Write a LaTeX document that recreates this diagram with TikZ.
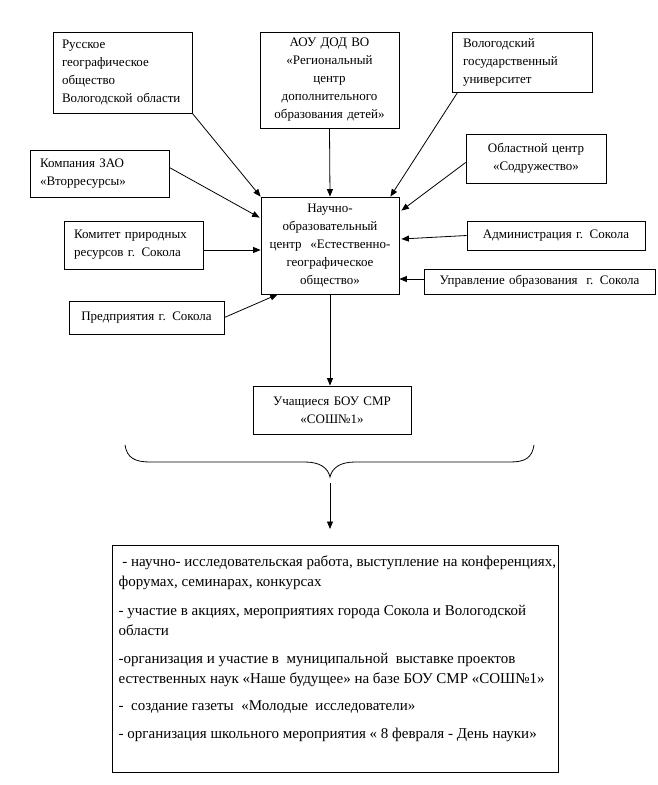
\documentclass[tikz,border=0pt]{standalone}
\usepackage{fontspec}
\setmainfont{Liberation Serif}
\usetikzlibrary{arrows.meta,calc}
\begin{document}
\begin{tikzpicture}[x=1pt,y=-1pt,
  box/.style={draw,line width=0.8pt,inner sep=0pt,font=\fontsize{13}{18}\selectfont},
  lbox/.style={box,align=left},
  cbox/.style={box,align=center},
  arr/.style={line width=0.8pt,-{Triangle[length=7.5pt,width=6pt]}}]
\useasboundingbox (0,0) rectangle (657,785);
% boxes
\node[lbox,minimum width=139,minimum height=81,text width=121] (rgo) at (122.5,72.5)
  {Русское\\географическое\\общество\\Вологодской области};
\node[cbox,minimum width=139,minimum height=96,text width=135] (aou) at (329.5,80)
  {АОУ ДОД ВО\\«Региональный\\центр\\дополнительного\\образования детей»};
\node[lbox,minimum width=140,minimum height=60,text width=118] (vgu) at (522,62)
  {Вологодский\\государственный\\университет};
\node[lbox,minimum width=139,minimum height=47,text width=119] (comp) at (99.5,173.5)
  {Компания ЗАО\\«Вторресурсы»};
\node[cbox,minimum width=140,minimum height=49,text width=136] (obl) at (536,158.5)
  {Областной центр\\«Содружество»};
\node[cbox,minimum width=138,minimum height=97,text width=134] (c) at (330,245.5)
  {Научно-\\образовательный\\центр~~«Естественно-\\географическое\\общество»};
\node[lbox,minimum width=139,minimum height=48,text width=119] (kom) at (133.5,245)
  {Комитет природных\\ресурсов г. Сокола};
\node[cbox,minimum width=178,minimum height=29,text width=174] (adm) at (556,235.5)
  {Администрация г. Сокола};
\node[cbox,minimum width=231,minimum height=25,text width=227] (upr) at (539.5,281.5)
  {Управление образования~~г. Сокола};
\node[cbox,minimum width=155,minimum height=33,text width=151] (pred) at (146.5,317.5)
  {Предприятия г. Сокола};
\node[cbox,minimum width=158,minimum height=48,text width=154] (uch) at (332,410)
  {Учащиеся БОУ СМР\\«СОШ№1»};
\node[draw,line width=0.8pt,minimum width=446,minimum height=227] (big) at (335,658.5) {};
\node[anchor=north west,inner sep=0pt,align=left,font=\fontsize{15}{19.5}\selectfont] (bigtext) at (118.5,556)
  {~- научно- исследовательская работа, выступление на конференциях,\\
   форумах, семинарах, конкурсах\\[10pt]
   - участие в акциях, мероприятиях города Сокола и Вологодской\\
   области\\[9pt]
   -организация и участие в~~муниципальной~~выставке проектов\\
   естественных наук «Наше будущее» на базе БОУ СМР «СОШ№1»\\[8pt]
   -~~создание газеты~~«Молодые~~исследователи»\\[8.5pt]
   - организация школьного мероприятия « 8 февраля - День науки»};
% arrows
\draw[arr] (rgo.south east) -- (c.north west);
\draw[arr] (aou.south) -- (c.north);
\draw[arr] ($(vgu.south west)+(6,0)$) -- ($(c.north east)+(-9,0)$);
\draw[arr] ($(obl.west)+(0,4)$) -- ($(c.north east)+(2,14)$);
\draw[arr] ($(comp.east)+(0,-6)$) -- ($(c.north west)+(-1,21)$);
\draw[arr] ($(kom.east)+(0,5)$) -- ($(c.west)+(0,4.5)$);
\draw[arr] (adm.west) -- ($(c.east)+(2,-6.5)$);
\draw[arr] ($(upr.west)+(0,-2.5)$) -- ($(c.east)+(0,33.5)$);
\draw[arr] (pred.east) -- ($(c.south west)+(17,0)$);
\draw[arr] (c.south) -- (c.south |- uch.north);
% brace
\draw[line width=0.8pt] (125,445) .. controls (127,458) and (135,462) .. (150,462) -- (305,462)
  .. controls (320,462) and (328,468) .. (330,477)
  .. controls (332,468) and (340,462) .. (355,462) -- (510,462)
  .. controls (525,462) and (532,458) .. (534,445);
\coordinate (bt) at (330,483);
\coordinate (be) at (330,529);
\draw[arr] (bt) -- (be);
\end{tikzpicture}
\end{document}
